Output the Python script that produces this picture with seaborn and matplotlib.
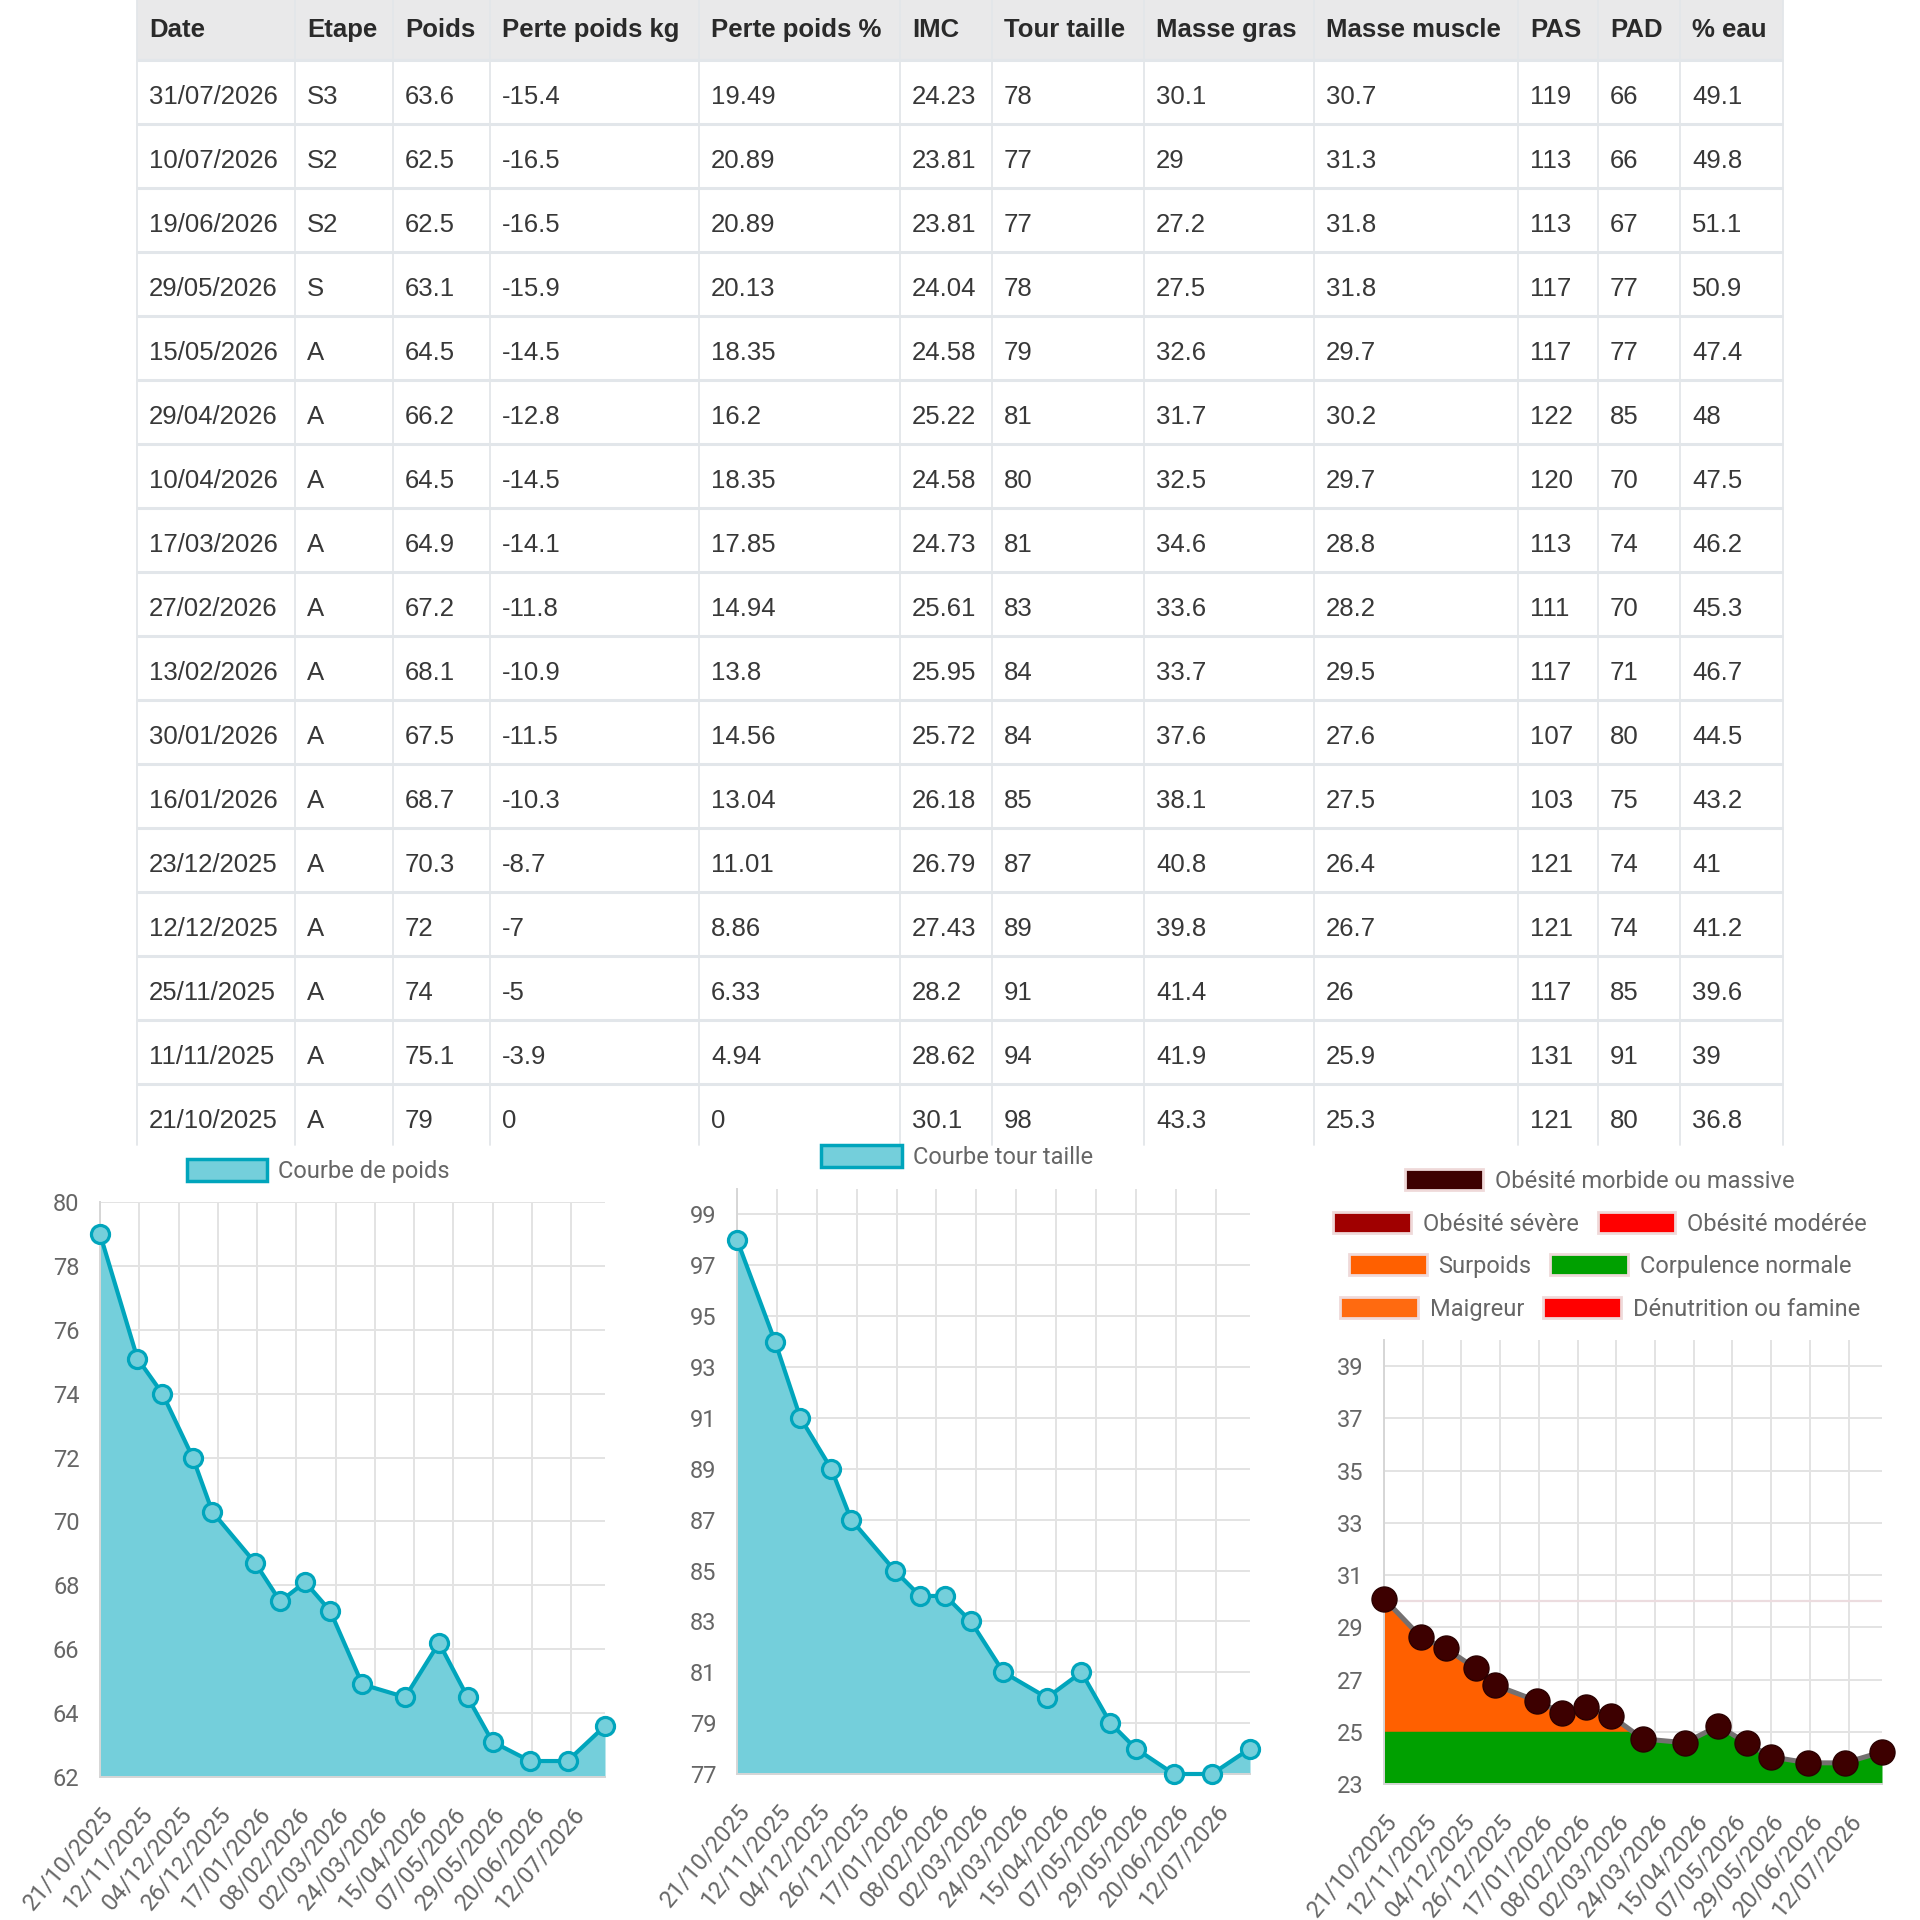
import numpy as np
import pandas as pd
import matplotlib
matplotlib.use("Agg")
import matplotlib.pyplot as plt
from matplotlib.patches import Patch, Rectangle
import seaborn as sns

# ---------------- data (table order: newest first) ----------------
columns = ["Date", "Etape", "Poids", "Perte poids kg", "Perte poids %", "IMC",
           "Tour taille", "Masse gras", "Masse muscle", "PAS", "PAD", "% eau"]
dates = ["31/07/2026", "10/07/2026", "19/06/2026", "29/05/2026", "15/05/2026",
         "29/04/2026", "10/04/2026", "17/03/2026", "27/02/2026", "13/02/2026",
         "30/01/2026", "16/01/2026", "23/12/2025", "12/12/2025", "25/11/2025",
         "11/11/2025", "21/10/2025"]
etapes = ["S3", "S2", "S2", "S", "A", "A", "A", "A", "A", "A", "A", "A", "A",
          "A", "A", "A", "A"]
poids = ["63.6", "62.5", "62.5", "63.1", "64.5", "66.2", "64.5", "64.9", "67.2",
         "68.1", "67.5", "68.7", "70.3", "72", "74", "75.1", "79"]
perte_kg = ["-15.4", "-16.5", "-16.5", "-15.9", "-14.5", "-12.8", "-14.5",
            "-14.1", "-11.8", "-10.9", "-11.5", "-10.3", "-8.7", "-7", "-5",
            "-3.9", "0"]
perte_pct = ["19.49", "20.89", "20.89", "20.13", "18.35", "16.2", "18.35",
             "17.85", "14.94", "13.8", "14.56", "13.04", "11.01", "8.86",
             "6.33", "4.94", "0"]
imc = ["24.23", "23.81", "23.81", "24.04", "24.58", "25.22", "24.58", "24.73",
       "25.61", "25.95", "25.72", "26.18", "26.79", "27.43", "28.2", "28.62",
       "30.1"]
tour_taille = ["78", "77", "77", "78", "79", "81", "80", "81", "83", "84", "84",
               "85", "87", "89", "91", "94", "98"]
masse_gras = ["30.1", "29", "27.2", "27.5", "32.6", "31.7", "32.5", "34.6",
              "33.6", "33.7", "37.6", "38.1", "40.8", "39.8", "41.4", "41.9",
              "43.3"]
masse_muscle = ["30.7", "31.3", "31.8", "31.8", "29.7", "30.2", "29.7", "28.8",
                "28.2", "29.5", "27.6", "27.5", "26.4", "26.7", "26", "25.9",
                "25.3"]
pas = ["119", "113", "113", "117", "117", "122", "120", "113", "111", "117",
       "107", "103", "121", "121", "117", "131", "121"]
pad_vals = ["66", "66", "67", "77", "77", "85", "70", "74", "70", "71", "80",
            "75", "74", "74", "85", "91", "80"]
eau = ["49.1", "49.8", "51.1", "50.9", "47.4", "48", "47.5", "46.2", "45.3",
       "46.7", "44.5", "43.2", "41", "41.2", "39.6", "39", "36.8"]

tick_labels = ["21/10/2025", "12/11/2025", "04/12/2025", "26/12/2025",
               "17/01/2026", "08/02/2026", "02/03/2026", "24/03/2026",
               "15/04/2026", "07/05/2026", "29/05/2026", "20/06/2026",
               "12/07/2026"]

legend_poids = "Courbe de poids"
legend_tour = "Courbe tour taille"
imc_legend_rows = [
    [("Obésité morbide ou massive", "#3d0000")],
    [("Obésité sévère", "#a00000"), ("Obésité modérée", "#ff0000")],
    [("Surpoids", "#ff6000"), ("Corpulence normale", "#00a000")],
    [("Maigreur", "#ff6a10"), ("Dénutrition ou famine", "#ff0000")],
]
imc_normal_limit = 25
imc_obesity_limit = 30

# ---------------- style ----------------
sns.set_theme(style="white")
plt.rcParams["font.family"] = ["Roboto", "DejaVu Sans"]
TABLE_FONT = ["Liberation Sans", "DejaVu Sans"]
TEAL = "#00a5bc"
TEAL_FILL = "#74cfdb"
GRID = "#e3e3e3"
TXT = "#666666"

fig = plt.figure(figsize=(19.2, 19.2), dpi=100)

# ---------------- table ----------------
tab = fig.add_axes([0, 0, 1, 1])
tab.set_xlim(0, 1920)
tab.set_ylim(1920, 0)
tab.axis("off")
col_x = [137, 295, 393, 490, 699, 900, 992, 1144, 1314, 1518, 1598, 1680, 1783]
header_h = 60
row_h = 64
table_bottom = 1145
tab.add_patch(Rectangle((col_x[0], 0), col_x[-1] - col_x[0], header_h,
                        facecolor="#e9e9ea", edgecolor="none", zorder=0))
table_cols = [dates, etapes, poids, perte_kg, perte_pct, imc, tour_taille,
              masse_gras, masse_muscle, pas, pad_vals, eau]
for k in range(len(dates)):
    yline = header_h + row_h * k
    tab.plot([col_x[0], col_x[-1]], [yline, yline], color="#e2e6ea",
             lw=2.2, zorder=1, solid_capstyle="butt")
for xv in col_x:
    tab.plot([xv, xv], [0, table_bottom], color="#e3e6e9", lw=1.3, zorder=1)
for j, name in enumerate(columns):
    tab.text(col_x[j] + 12, header_h / 2, name, family=TABLE_FONT,
             fontsize=18.5, fontweight="bold", color="#2a2a2a",
             ha="left", va="center", zorder=2)
for j, col in enumerate(table_cols):
    for k, val in enumerate(col):
        tab.text(col_x[j] + 12, header_h + row_h * k + 36.5, val,
                 family=TABLE_FONT, fontsize=18.5, color="#383838",
                 ha="left", va="center", zorder=2)

# ---------------- chart data (chronological) ----------------
df = pd.DataFrame({
    "date": pd.to_datetime(dates, format="%d/%m/%Y"),
    "poids": [float(v) for v in poids],
    "tour": [float(v) for v in tour_taille],
    "imc": [float(v) for v in imc],
}).sort_values("date").reset_index(drop=True)
tick_dates = pd.to_datetime(tick_labels, format="%d/%m/%Y")


def style_axes(ax, ymin, ymax, yticks):
    ax.set_xlim(df["date"].min(), df["date"].max())
    ax.set_ylim(ymin, ymax)
    ax.set_yticks(yticks)
    ax.set_xticks(tick_dates)
    ax.set_xticklabels(tick_labels, rotation=50, ha="right", va="top",
                       rotation_mode="anchor")
    ax.grid(True, color=GRID, lw=1.4)
    ax.set_axisbelow(True)
    ax.tick_params(axis="both", length=10.8, width=1.4, color=GRID,
                   labelcolor=TXT, labelsize=17)
    ax.tick_params(axis="x", pad=8)
    ax.tick_params(axis="y", pad=4)
    for s in ["top", "right"]:
        ax.spines[s].set_visible(False)
    for s in ["left", "bottom"]:
        ax.spines[s].set_color("#d6d6d6")
        ax.spines[s].set_linewidth(1.4)
    ax.set_xlabel("")
    ax.set_ylabel("")
    ax.set_facecolor("none")


def area_chart(ax, col, ymin, ymax, yticks, label, legend_xy):
    ax.fill_between(df["date"], df[col], ymin, color=TEAL_FILL, lw=0, zorder=2)
    sns.lineplot(data=df, x="date", y=col, ax=ax, color=TEAL, linewidth=3,
                 marker="o", markersize=13, markerfacecolor=TEAL_FILL,
                 markeredgecolor=TEAL, markeredgewidth=2.3, zorder=3,
                 clip_on=False)
    style_axes(ax, ymin, ymax, yticks)
    h = Patch(facecolor=TEAL_FILL, edgecolor=TEAL, linewidth=2.5)
    fig.legend([h], [label], loc="center", bbox_to_anchor=legend_xy,
               frameon=False, fontsize=17, labelcolor=TXT, handlelength=3.4,
               handleheight=1.05, handletextpad=0.47, borderpad=0)


ax1 = fig.add_axes([100 / 1920, 1 - 1777 / 1920, 505 / 1920, 575 / 1920])
area_chart(ax1, "poids", 62, 80, np.arange(62, 81, 2), legend_poids,
           (318 / 1920, 1 - 1171 / 1920))

ax2 = fig.add_axes([737 / 1920, 1 - 1774 / 1920, 513 / 1920, 585 / 1920])
area_chart(ax2, "tour", 77, 100, np.arange(77, 100, 2), legend_tour,
           (957 / 1920, 1 - 1157 / 1920))

# ---------------- IMC chart ----------------
ax3 = fig.add_axes([1384 / 1920, 1 - 1784 / 1920, 498 / 1920, 444 / 1920])
imc_min = 23
ax3.fill_between(df["date"], df["imc"], imc_min, color="#00a000", lw=0,
                 zorder=2)
ax3.fill_between(df["date"], df["imc"], imc_normal_limit,
                 where=df["imc"] > imc_normal_limit, interpolate=True,
                 color="#ff6000", lw=0, zorder=2.1)
ax3.axhline(imc_obesity_limit, color="#ecdcdf", lw=1.6, zorder=1)
sns.lineplot(data=df, x="date", y="imc", ax=ax3, color="#747070",
             linewidth=3.6, marker="o", markersize=18,
             markerfacecolor="#3d0000", markeredgecolor="#2a0000",
             markeredgewidth=1, zorder=3, clip_on=False)
style_axes(ax3, imc_min, 40, np.arange(23, 40, 2))

row_y = [1181, 1224, 1266, 1309]
for entries, yy in zip(imc_legend_rows, row_y):
    handles = [Patch(facecolor=c, edgecolor="#efd9d9", linewidth=2)
               for _, c in entries]
    labels = [t for t, _ in entries]
    fig.legend(handles, labels, loc="center", ncol=len(entries),
               bbox_to_anchor=(1600 / 1920, 1 - yy / 1920), frameon=False,
               fontsize=17, labelcolor=TXT, handlelength=3.3,
               handleheight=0.95, handletextpad=0.5, columnspacing=0.8,
               borderpad=0)

fig.savefig("out.png", dpi=100)
